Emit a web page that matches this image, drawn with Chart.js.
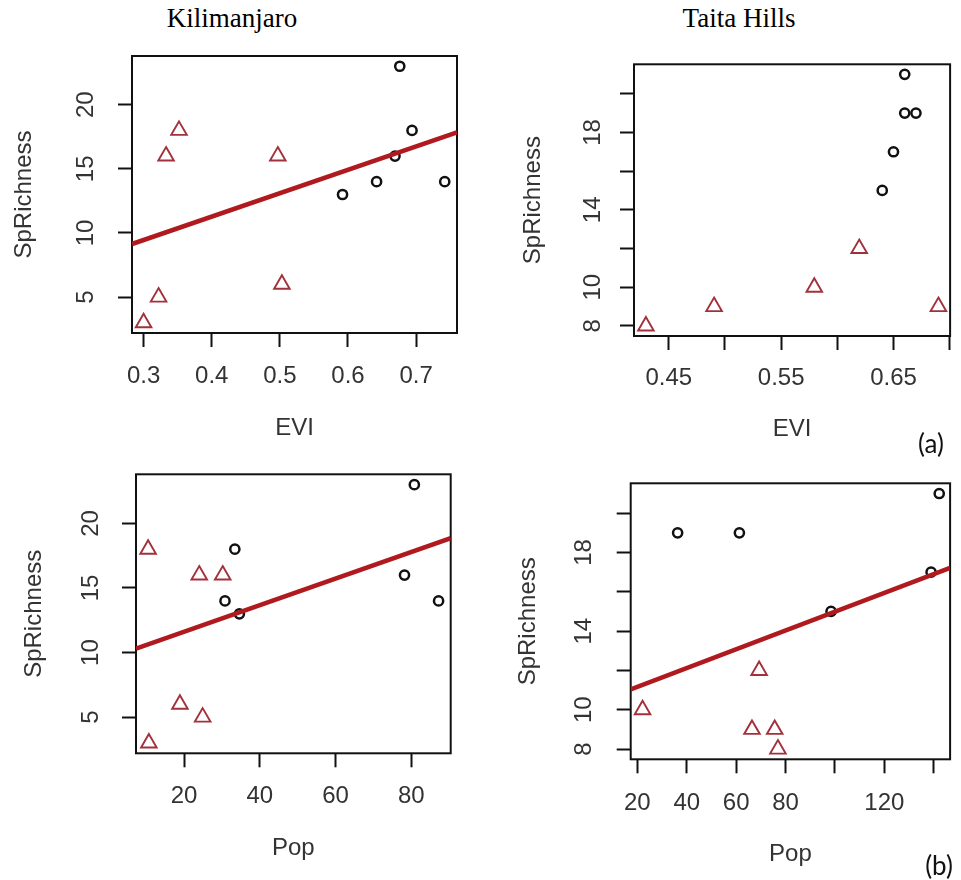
<!DOCTYPE html>
<html>
<head>
<meta charset="utf-8">
<script src="https://cdn.jsdelivr.net/npm/chart.js@4.4.1/dist/chart.umd.min.js"></script>
<style>
  body { margin: 0; background: #fff; }
  #wrap { position: relative; width: 961px; height: 880px; overflow: hidden; }
  #wrap canvas { position: absolute; left: 0; top: 0; }
  .site { position: absolute; top: 5px; font-family: "Liberation Serif", "Times New Roman", serif; font-size: 27px; line-height: 27px; transform: translateX(-50%); color: #000; white-space: nowrap; }
  .tag { position: absolute; font-family: Lato, "Open Sans", sans-serif; font-size: 26px; line-height: 26px; transform: translate(-50%, -50%); color: #111; }
</style>
</head>
<body>
<div id="wrap">
  <div class="site" style="left:232px">Kilimanjaro</div>
  <div class="site" style="left:739px">Taita Hills</div>
  <canvas id="kiliEvi" width="961" height="880"></canvas>
  <canvas id="taitaEvi" width="961" height="880"></canvas>
  <canvas id="kiliPop" width="961" height="880"></canvas>
  <canvas id="taitaPop" width="961" height="880"></canvas>
  <div class="tag" style="left:931px;top:443px">(a)</div>
  <div class="tag" style="left:939px;top:865px">(b)</div>
</div>
<script>
// species richness scale (shared by both panels of a site)
const richKiliRange = [2.2, 23.8];
const richKiliTicks = [5, 10, 15, 20];
const richTaitaRange = [7.48, 21.52];
const richTaitaTicks = [8, 10, 12, 14, 16, 18, 20];
const richTaitaLabels = [8, 10, 14, 18];

// Kilimanjaro vs EVI
const kiliEviTriX = [0.300, 0.322, 0.333, 0.352, 0.497, 0.503];
const kiliEviTriY = [3, 5, 16, 18, 16, 6];
const kiliEviCircX = [0.592, 0.642, 0.669, 0.676, 0.694, 0.742];
const kiliEviCircY = [13, 14, 16, 23, 18, 14];
const kiliEviFitX = [0.283, 0.760];
const kiliEviFitY = [9.14, 17.85];
const kiliEviRange = [0.283, 0.760];
const kiliEviTicks = [0.3, 0.4, 0.5, 0.6, 0.7];

// Taita Hills vs EVI
const taitaEviTriX = [0.4296, 0.4903, 0.5795, 0.6195, 0.690];
const taitaEviTriY = [8, 9, 10, 12, 9];
const taitaEviCircX = [0.640, 0.650, 0.660, 0.670, 0.660];
const taitaEviCircY = [15, 17, 19, 19, 21];
const taitaEviRange = [0.419, 0.7004];
const taitaEviTicks = [0.45, 0.50, 0.55, 0.60, 0.65, 0.70];
const taitaEviLabels = [0.45, 0.55, 0.65];

// Kilimanjaro vs population
const kiliPopTriX = [10.5, 10.7, 18.9, 24.0, 24.9, 30.2];
const kiliPopTriY = [18, 3, 6, 16, 5, 16];
const kiliPopCircX = [30.8, 33.4, 34.6, 78.2, 80.8, 87.2];
const kiliPopCircY = [14, 18, 13, 16, 23, 14];
const kiliPopFitX = [7.3, 90.4];
const kiliPopFitY = [10.3, 18.85];
const kiliPopRange = [7.3, 90.4];
const kiliPopTicks = [20, 40, 60, 80];

// Taita Hills vs population
const taitaPopTriX = [22.1, 66.4, 69.3, 75.6, 76.9];
const taitaPopTriY = [10, 9, 12, 9, 8];
const taitaPopCircX = [36.3, 61.3, 98.4, 138.9, 142.2];
const taitaPopCircY = [19, 19, 15, 17, 21];
const taitaPopFitX = [17.3, 146.6];
const taitaPopFitY = [11.04, 17.22];
const taitaPopRange = [17.3, 146.6];
const taitaPopTicks = [20, 40, 60, 80, 100, 120, 140];
const taitaPopLabels = [20, 40, 60, 80, 120];

const W = 961, H = 880;
const FONT = "'Liberation Sans', Arial, sans-serif";
const FONT_SIZE = 24;
const LINE_H = FONT_SIZE * 1.2;
const TEXT = '#333';
const TICK_LEN = 14;
const HALF_LABEL = 13.35; // half width of a two digit tick label
const TRI_RED = '#a3313b';
const FIT_RED = '#b01a1f';

function pts(xs, ys) {
  return xs.map((x, i) => ({ x: x, y: ys[i] }));
}

function onlyTicks(values) {
  return scale => { scale.ticks = values.map(v => ({ value: v })); };
}

function labelIf(shown) {
  return value => (shown.includes(value) ? String(value) : '');
}

function noPad(s) {
  s.paddingLeft = s.paddingRight = s.paddingTop = s.paddingBottom = 0;
}

// box round the plotting region, R style
const frame = {
  id: 'frame',
  beforeDatasetsDraw(chart) {
    const a = chart.chartArea, ctx = chart.ctx;
    ctx.save();
    ctx.strokeStyle = '#111';
    ctx.lineWidth = 2;
    ctx.strokeRect(a.left, a.top, a.right - a.left, a.bottom - a.top);
    ctx.restore();
  }
};

function drawPanel(id, p, g) {
  const yLeft = g.yTitleX + 1.2 - LINE_H / 2;
  const xBottom = g.xTitleY + 1.2 + LINE_H / 2;
  const font = { family: FONT, size: FONT_SIZE };

  const datasets = [];
  if (p.fitX) {
    datasets.push({
      data: pts(p.fitX, p.fitY), showLine: true, borderColor: FIT_RED, borderWidth: 4.5,
      pointRadius: 0, order: 0
    });
  }
  datasets.push({
    data: pts(p.triX, p.triY), pointStyle: 'triangle', pointRadius: 9,
    pointBorderColor: TRI_RED, pointBorderWidth: 1.9, pointBackgroundColor: 'rgba(0,0,0,0)', order: 1
  });
  datasets.push({
    data: pts(p.circX, p.circY), pointStyle: 'circle', pointRadius: 4.6,
    pointBorderColor: '#111', pointBorderWidth: 2.5, pointBackgroundColor: 'rgba(0,0,0,0)', order: 2
  });

  new Chart(document.getElementById(id), {
    type: 'scatter',
    data: { datasets: datasets },
    options: {
      responsive: false,
      animation: false,
      devicePixelRatio: 1,
      events: [],
      layout: { padding: { left: yLeft, top: g.box.t, right: W - g.box.r, bottom: H - xBottom } },
      plugins: { legend: { display: false }, tooltip: { enabled: false } },
      scales: {
        x: {
          type: 'linear', position: 'bottom', bounds: 'data',
          min: p.xRange[0], max: p.xRange[1],
          afterBuildTicks: onlyTicks(p.xTicks),
          afterFit: s => { s.height = xBottom - g.box.b; noPad(s); },
          grid: { drawOnChartArea: false, drawTicks: true, tickLength: TICK_LEN, tickWidth: 2, tickColor: '#111' },
          border: { display: false },
          ticks: {
            autoSkip: false, minRotation: 0, maxRotation: 0, color: TEXT, font: font,
            padding: g.xLabelOff + 1.2 - TICK_LEN - LINE_H / 2,
            callback: labelIf(p.xLabels)
          },
          title: { display: true, text: p.xTitle, color: TEXT, font: font, padding: 0 }
        },
        y: {
          type: 'linear', position: 'left', bounds: 'data',
          min: p.yRange[0], max: p.yRange[1],
          afterBuildTicks: onlyTicks(p.yTicks),
          afterFit: s => { s.width = g.box.l - yLeft; noPad(s); },
          grid: { drawOnChartArea: false, drawTicks: true, tickLength: TICK_LEN, tickWidth: 2, tickColor: '#111' },
          border: { display: false },
          ticks: {
            autoSkip: false, minRotation: 90, maxRotation: 90, crossAlign: 'center',
            color: TEXT, font: font,
            padding: g.yLabelOff - 1.2 - TICK_LEN - HALF_LABEL,
            callback: labelIf(p.yLabels)
          },
          title: { display: true, text: 'SpRichness', color: TEXT, font: font, padding: 0 }
        }
      }
    },
    plugins: [frame]
  });
}

drawPanel('kiliEvi', {
  triX: kiliEviTriX, triY: kiliEviTriY, circX: kiliEviCircX, circY: kiliEviCircY,
  fitX: kiliEviFitX, fitY: kiliEviFitY,
  xRange: kiliEviRange, xTicks: kiliEviTicks, xLabels: kiliEviTicks, xTitle: 'EVI',
  yRange: richKiliRange, yTicks: richKiliTicks, yLabels: richKiliTicks
}, { box: { l: 132, t: 56, r: 457, b: 333 }, yTitleX: 23.3, xTitleY: 426.7, yLabelOff: 46.7, xLabelOff: 42 });

drawPanel('taitaEvi', {
  triX: taitaEviTriX, triY: taitaEviTriY, circX: taitaEviCircX, circY: taitaEviCircY,
  xRange: taitaEviRange, xTicks: taitaEviTicks, xLabels: taitaEviLabels, xTitle: 'EVI',
  yRange: richTaitaRange, yTicks: richTaitaTicks, yLabels: richTaitaLabels
}, { box: { l: 634, t: 64.3, r: 959.4, b: 336 }, yTitleX: 531.7, xTitleY: 428.3, yLabelOff: 42.3, xLabelOff: 40.7 });

drawPanel('kiliPop', {
  triX: kiliPopTriX, triY: kiliPopTriY, circX: kiliPopCircX, circY: kiliPopCircY,
  fitX: kiliPopFitX, fitY: kiliPopFitY,
  xRange: kiliPopRange, xTicks: kiliPopTicks, xLabels: kiliPopTicks, xTitle: 'Pop',
  yRange: richKiliRange, yTicks: richKiliTicks, yLabels: richKiliTicks
}, { box: { l: 136, t: 474.3, r: 450.7, b: 753.3 }, yTitleX: 33, xTitleY: 846.7, yLabelOff: 46, xLabelOff: 41.7 });

drawPanel('taitaPop', {
  triX: taitaPopTriX, triY: taitaPopTriY, circX: taitaPopCircX, circY: taitaPopCircY,
  fitX: taitaPopFitX, fitY: taitaPopFitY,
  xRange: taitaPopRange, xTicks: taitaPopTicks, xLabels: taitaPopLabels, xTitle: 'Pop',
  yRange: richTaitaRange, yTicks: richTaitaTicks, yLabels: richTaitaLabels
}, { box: { l: 630.7, t: 483.3, r: 959.3, b: 759.3 }, yTitleX: 526.7, xTitleY: 853.3, yLabelOff: 47.4, xLabelOff: 42.4 });
</script>
</body>
</html>
